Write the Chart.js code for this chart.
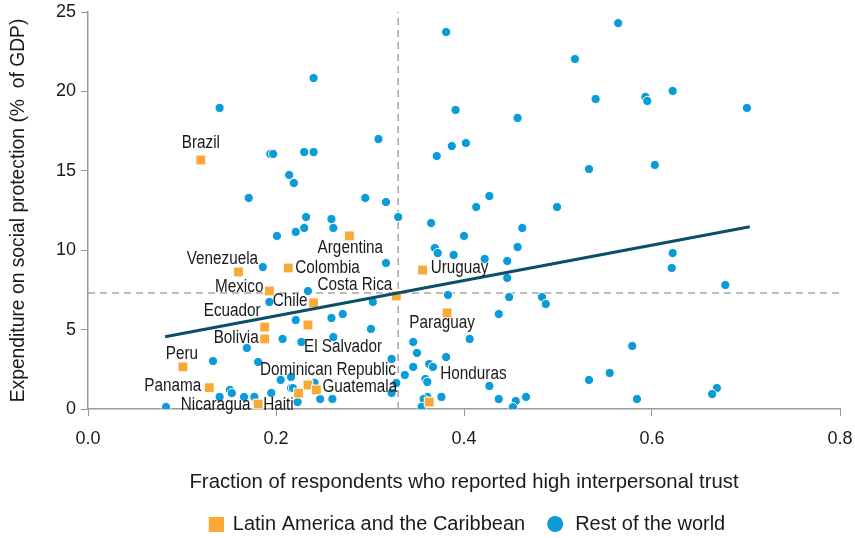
<!DOCTYPE html>
<html>
<head>
<meta charset="utf-8">
<script src="https://cdn.jsdelivr.net/npm/chart.js@4.4.1/dist/chart.umd.min.js"></script>
<style>
  html, body { margin: 0; padding: 0; background: #fff; }
  #wrap { width: 855px; height: 538px; }
</style>
</head>
<body>
<div id="wrap"><canvas id="chart"></canvas></div>
<script>
// Latin America and the Caribbean
const lacNames = ['Brazil','Argentina','Venezuela','Colombia','Uruguay','Mexico','Costa Rica','Chile','Paraguay',
  'Ecuador','Bolivia','El Salvador','Peru','Panama','Dominican Republic','Guatemala','Haiti','Nicaragua','Honduras'];
const lacTrust = [0.120,0.278,0.160,0.213,0.356,0.193,0.328,0.240,0.382,
  0.188,0.188,0.234,0.101,0.129,0.234,0.243,0.181,0.224,0.363];
const lacSpend = [15.68,10.90,8.63,8.88,8.75,7.43,7.12,6.68,6.05,
  5.16,4.41,5.29,2.65,1.34,1.51,1.20,0.31,1.00,0.44];

// Rest of the world
const rowTrust = [0.240,0.140,0.194,0.197,0.230,0.240,0.214,0.219,0.171,0.295,0.309,0.381,0.564,0.518,0.540,
  0.593,0.595,0.622,0.701,0.391,0.457,0.387,0.402,0.371,0.533,0.603,0.317,0.427,0.413,0.499,
  0.330,0.232,0.259,0.230,0.261,0.221,0.201,0.317,0.186,0.365,0.400,0.462,0.369,0.372,0.389,
  0.457,0.422,0.446,0.622,0.621,0.678,0.446,0.383,0.448,0.483,0.487,0.303,0.437,0.301,0.406,
  0.346,0.350,0.381,0.323,0.579,0.555,0.533,0.669,0.664,0.346,0.337,0.363,0.367,0.359,0.361,
  0.427,0.328,0.323,0.361,0.357,0.376,0.437,0.455,0.466,0.452,0.355,0.584,0.234,0.193,0.221,
  0.259,0.271,0.207,0.227,0.261,0.169,0.133,0.181,0.205,0.216,0.216,0.218,0.241,0.151,0.153,
  0.140,0.166,0.177,0.195,0.223,0.247,0.260,0.083];
const rowSpend = [20.84,18.96,16.06,16.06,16.18,16.18,14.74,14.23,13.29,13.29,17.00,23.74,24.30,22.04,19.52,
  19.65,19.40,20.03,18.96,18.83,18.33,16.56,16.75,15.93,15.11,15.37,13.03,13.41,12.72,12.72,
  12.09,12.09,11.96,11.40,11.40,11.15,10.90,9.19,8.94,11.71,10.90,11.40,10.14,9.82,9.70,
  10.20,9.45,9.32,9.82,8.88,7.81,8.25,7.18,7.05,7.05,6.61,6.74,5.98,5.04,4.41,
  4.22,3.53,3.27,3.15,3.97,2.27,1.83,1.32,0.94,2.65,2.14,2.83,2.65,1.89,1.70,
  1.45,1.64,1.01,0.76,0.63,0.76,0.63,0.50,0.76,0.12,0.13,0.63,7.43,6.74,5.60,
  5.73,5.98,4.41,4.22,4.53,3.84,3.02,2.96,1.83,2.02,1.32,1.32,1.64,1.20,1.00,
  0.76,0.76,0.76,1.01,0.44,0.63,0.63,0.13];

// fitted line and averages
const trendTrust = [0.082, 0.704];
const trendSpend = [4.55, 11.48];
const meanTrust = 0.33;
const meanSpend = 7.3;

const xTicks = [0, 0.2, 0.4, 0.6, 0.8];
const yTicks = [0, 5, 10, 15, 20, 25];

const ORANGE = '#f9aa36';
const BLUE = '#0b9bd7';
const INK = '#1a1a1a';
const FONT = "'Liberation Sans', Arial, sans-serif";

// where each country name sits relative to its marker
const labelOffsets = {
  'Brazil': [0, -17, 'center'], 'Argentina': [1, 12, 'center'], 'Venezuela': [-16, -13, 'center'],
  'Colombia': [7, 0, 'left'], 'Uruguay': [8, -2, 'left'], 'Mexico': [-6, -4, 'right'],
  'Costa Rica': [-4, -11, 'right'], 'Chile': [-6, -2, 'right'], 'Paraguay': [-5, 10, 'center'],
  'Ecuador': [-4, -16, 'right'], 'Bolivia': [-6, -1, 'right'], 'El Salvador': [-4, 22, 'left'],
  'Peru': [-1, -13, 'center'], 'Panama': [-8, -2, 'right'], 'Dominican Republic': [20, -15, 'center'],
  'Guatemala': [6, -3, 'left'], 'Haiti': [5, 1, 'left'], 'Nicaragua': [-48, 12, 'right'],
  'Honduras': [11, -28, 'left']
};

const zip = (xs, ys) => xs.map((x, i) => ({ x: x, y: ys[i] }));

// country names, drawn a little condensed like the original
const countryLabels = {
  id: 'countryLabels',
  afterDatasetsDraw(chart) {
    const ctx = chart.ctx;
    const meta = chart.getDatasetMeta(0);
    ctx.save();
    ctx.font = '18px ' + FONT;
    ctx.fillStyle = INK;
    ctx.textBaseline = 'middle';
    meta.data.forEach((pt, i) => {
      const name = lacNames[i];
      const o = labelOffsets[name];
      ctx.save();
      ctx.translate(pt.x + o[0], pt.y + o[1]);
      ctx.scale(0.85, 1);
      ctx.textAlign = o[2];
      ctx.fillText(name, 0, 0);
      ctx.restore();
    });
    ctx.restore();
  }
};

// bigger square for the legend, pushed right so it sits close to its text
const legendSquare = document.createElement('canvas');
legendSquare.width = 22;
legendSquare.height = 15;
const sq = legendSquare.getContext('2d');
sq.fillStyle = ORANGE;
sq.fillRect(7, 0, 15, 15);

// no automatic label padding, so the plot area is set by layout.padding alone
const noAutoPad = (s) => { s.paddingTop = 0; s.paddingBottom = 0; s.paddingLeft = 0; s.paddingRight = 0; };

new Chart(document.getElementById('chart'), {
  type: 'scatter',
  data: {
    datasets: [
      {
        label: 'Latin America and the Caribbean',
        data: zip(lacTrust, lacSpend),
        pointStyle: 'rect',
        pointRadius: 7,
        backgroundColor: ORANGE,
        borderColor: '#fff',
        borderWidth: 1,
        order: 1
      },
      {
        label: 'Rest of the world',
        data: zip(rowTrust, rowSpend),
        pointStyle: 'circle',
        pointRadius: 4.6,
        backgroundColor: BLUE,
        borderColor: '#fff',
        borderWidth: 1,
        order: 2
      },
      {
        type: 'line',
        label: 'trend',
        data: zip(trendTrust, trendSpend),
        borderColor: '#0c4d69',
        borderWidth: 3,
        pointRadius: 0,
        order: 0
      },
      {
        type: 'line',
        label: 'meanTrust',
        data: zip([meanTrust, meanTrust], [0, 25]),
        borderColor: '#a6a6a6',
        borderWidth: 1.5,
        borderDash: [7, 5],
        pointRadius: 0,
        order: 3
      },
      {
        type: 'line',
        label: 'meanSpend',
        data: zip([0, 0.8], [meanSpend, meanSpend]),
        borderColor: '#a6a6a6',
        borderWidth: 1.5,
        borderDash: [7, 5],
        pointRadius: 0,
        order: 3
      }
    ]
  },
  options: {
    responsive: true,
    maintainAspectRatio: false,
    animation: false,
    layout: { padding: { top: 12, right: 15, left: 0, bottom: -6 } },
    plugins: {
      tooltip: { enabled: false },
      legend: {
        position: 'bottom',
        fullSize: false,
        labels: {
          filter: (item) => item.datasetIndex < 2,
          generateLabels: (chart) => {
            const items = Chart.defaults.plugins.legend.labels.generateLabels(chart);
            items.forEach(it => {
              if (it.datasetIndex === 0) it.pointStyle = legendSquare;
              it.strokeStyle = 'rgba(0,0,0,0)';
              it.lineWidth = 0;
            });
            return items;
          },
          usePointStyle: true,
          boxHeight: 11.3,
          color: INK,
          font: { family: FONT, size: 20 },
          padding: 20
        }
      }
    },
    scales: {
      x: {
        type: 'linear',
        min: 0,
        max: 0.8,
        afterBuildTicks: (s) => { s.ticks = xTicks.map(v => ({ value: v })); },
        afterFit: (s) => { s.height = 85; noAutoPad(s); },
        ticks: {
          callback: (v) => v.toFixed(1),
          color: INK,
          font: { family: FONT, size: 18 },
          padding: 12
        },
        grid: { drawOnChartArea: false, drawTicks: true, tickLength: 7, color: '#999' },
        border: { color: '#999', width: 1.5 },
        title: {
          display: true,
          text: 'Fraction of respondents who reported high interpersonal trust',
          color: INK,
          font: { family: FONT, size: 20.3 },
          padding: { top: 0, bottom: -1 }
        }
      },
      y: {
        min: 0,
        max: 25,
        afterBuildTicks: (s) => { s.ticks = yTicks.map(v => ({ value: v })); },
        afterFit: (s) => { s.width = 88; noAutoPad(s); },
        ticks: {
          color: INK,
          font: { family: FONT, size: 18 },
          padding: 5
        },
        grid: { drawOnChartArea: false, drawTicks: true, tickLength: 7, color: '#999' },
        border: { color: '#999', width: 1.5 },
        title: {
          display: true,
          text: 'Expenditure on social protection (%  of GDP)',
          color: INK,
          font: { family: FONT, size: 19.3 },
          padding: { top: 7, bottom: 0 }
        }
      }
    }
  },
  plugins: [countryLabels]
});
</script>
</body>
</html>
